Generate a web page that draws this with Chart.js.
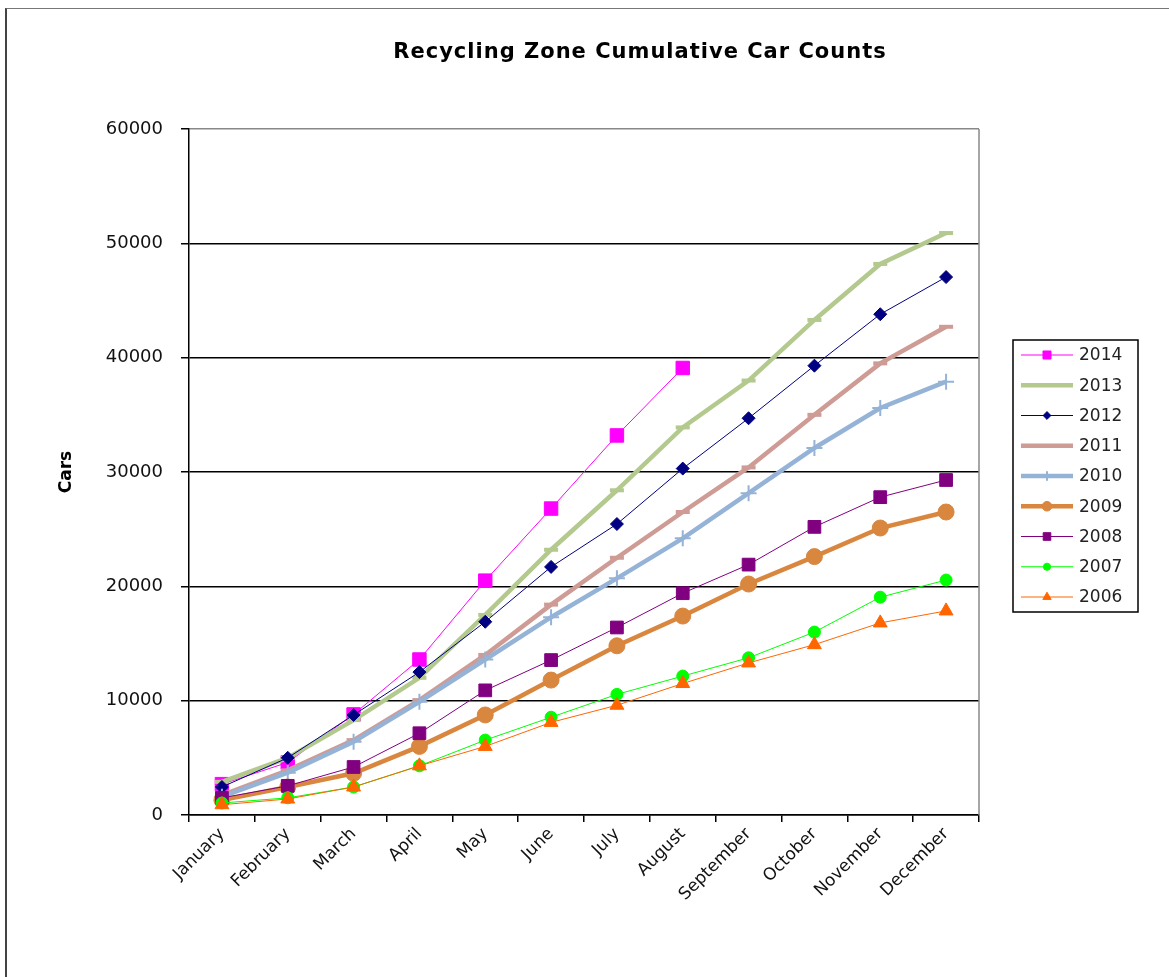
<!DOCTYPE html>
<html>
<head>
<meta charset="utf-8">
<title>Recycling Zone Cumulative Car Counts</title>
<script src="https://cdn.jsdelivr.net/npm/chart.js@4.4.1/dist/chart.umd.min.js"></script>
<style>
    html, body { margin: 0; padding: 0; background: #fff; }
    #wrap { position: relative; width: 1169px; height: 977px; overflow: hidden; }
    #frame { position: absolute; left: 5px; top: 8px; right: -4px; bottom: -4px; border-left: 2px solid #444; border-top: 1px solid #777; }
    #myChart { position: absolute; left: 0; top: 0; }
</style>
</head>
<body>
<div id="wrap">
    <div id="frame"></div>
    <canvas id="myChart" width="1169" height="977"></canvas>
</div>
<script>
const months = ['January', 'February', 'March', 'April', 'May', 'June', 'July', 'August', 'September', 'October', 'November', 'December']
const years = ['2014', '2013', '2012', '2011', '2010', '2009', '2008', '2007', '2006']
const yTicks = [0, 10000, 20000, 30000, 40000, 50000, 60000]

// running totals per month
const cars2014 = [2700, 4600, 8800, 13600, 20500, 26800, 33200, 39100, null, null, null, null]
const cars2013 = [2900, 5000, 8300, 12000, 17500, 23200, 28400, 33900, 38000, 43300, 48200, 50900]
const cars2012 = [2450, 5000, 8750, 12500, 16900, 21700, 25450, 30300, 34700, 39300, 43800, 47050]
const cars2011 = [1750, 3900, 6550, 10050, 14000, 18400, 22500, 26500, 30400, 35000, 39500, 42700]
const cars2010 = [1600, 3700, 6400, 9900, 13600, 17300, 20700, 24200, 28150, 32100, 35600, 37900]
const cars2009 = [1300, 2450, 3650, 6000, 8750, 11800, 14800, 17400, 20200, 22600, 25100, 26500]
const cars2008 = [1500, 2550, 4200, 7150, 10900, 13550, 16400, 19400, 21900, 25200, 27800, 29300]
const cars2007 = [1050, 1500, 2450, 4300, 6550, 8550, 10550, 12150, 13750, 16000, 19050, 20550]
const cars2006 = [900, 1400, 2450, 4300, 6000, 8100, 9600, 11500, 13300, 14900, 16800, 17850]

const seriesValues = [cars2014, cars2013, cars2012, cars2011, cars2010, cars2009, cars2008, cars2007, cars2006]

// line colour, width, marker shape, marker size, marker outline
const seriesStyle = [
    { color: '#FF00FF', width: 1, point: 'rect', radius: 9.5, pointBorder: 1 },
    { color: '#B3C98E', width: 4.5, point: 'line', radius: 7, pointBorder: 4 },
    { color: '#000080', width: 1, point: 'rectRot', radius: 6.5, pointBorder: 1 },
    { color: '#CF9B95', width: 4.5, point: 'line', radius: 7, pointBorder: 4 },
    { color: '#95B3D7', width: 4.5, point: 'cross', radius: 8, pointBorder: 2 },
    { color: '#D9863E', width: 4.5, point: 'circle', radius: 8, pointBorder: 1 },
    { color: '#800080', width: 1, point: 'rect', radius: 9, pointBorder: 1 },
    { color: '#00FF00', width: 1, point: 'circle', radius: 6, pointBorder: 1 },
    { color: '#FF6600', width: 1, point: 'triangle', radius: 8, pointBorder: 1 }
]

const FONT = "'DejaVu Sans', 'Liberation Sans', Arial, sans-serif"

const datasets = years.map((year, i) => {
    const s = seriesStyle[i]
    return {
        label: year,
        data: seriesValues[i],
        borderColor: s.color,
        backgroundColor: s.color,
        borderWidth: s.width,
        pointStyle: s.point,
        pointRadius: s.radius,
        pointBorderWidth: s.pointBorder,
        pointBackgroundColor: s.color,
        pointBorderColor: s.color,
        tension: 0,
        // later years sit underneath the older ones
        order: years.length - i
    }
})

const chartTitle = {
    id: 'chartTitle',
    afterDraw(chart, args, opts) {
        const ctx = chart.ctx
        ctx.save()
        ctx.font = 'bold 21px ' + FONT
        ctx.fillStyle = '#000'
        ctx.textAlign = 'center'
        ctx.textBaseline = 'alphabetic'
        ctx.letterSpacing = '1px'
        ctx.fillText(opts.text, opts.x, opts.y)
        ctx.restore()
    }
}

const plotBorder = {
    id: 'plotBorder',
    beforeDatasetsDraw(chart) {
        const { ctx, chartArea } = chart
        ctx.save()
        ctx.strokeStyle = '#888'
        ctx.lineWidth = 1.5
        ctx.beginPath()
        ctx.moveTo(chartArea.right, chartArea.top)
        ctx.lineTo(chartArea.right, chartArea.bottom)
        ctx.stroke()
        ctx.restore()
    }
}

const legendBox = {
    id: 'legendBox',
    afterDraw(chart, args, opts) {
        const ctx = chart.ctx
        ctx.save()
        ctx.strokeStyle = '#000'
        ctx.lineWidth = 1.5
        ctx.strokeRect(opts.left, opts.top, opts.width, opts.height)
        chart.data.datasets.forEach((ds, i) => {
            const y = opts.top + opts.firstRow + i * opts.rowHeight
            ctx.strokeStyle = ds.borderColor
            ctx.fillStyle = ds.borderColor
            ctx.lineWidth = ds.borderWidth
            ctx.beginPath()
            ctx.moveTo(opts.left + 8, y)
            ctx.lineTo(opts.left + 60, y)
            ctx.stroke()
            if (ds.pointStyle !== 'line') {
                ctx.lineWidth = ds.pointBorderWidth
                Chart.helpers.drawPoint(ctx, {
                    pointStyle: ds.pointStyle,
                    radius: ds.pointRadius * 0.6,
                    borderWidth: ds.pointBorderWidth,
                    rotation: 0
                }, opts.left + 34, y)
            }
            ctx.fillStyle = '#222'
            ctx.font = '17px ' + FONT
            ctx.textAlign = 'left'
            ctx.textBaseline = 'middle'
            ctx.fillText(ds.label, opts.left + 66, y + 1)
        })
        ctx.restore()
    }
}

const ctx = document.querySelector('#myChart').getContext('2d')

new Chart(ctx, {
    type: 'line',
    data: { labels: months, datasets: datasets },
    plugins: [chartTitle, plotBorder, legendBox],
    options: {
        responsive: false,
        animation: false,
        devicePixelRatio: 1,
        events: [],
        layout: {
            padding: { left: 0, top: 129, right: 190, bottom: 0 }
        },
        scales: {
            x: {
                type: 'category',
                offset: true,
                afterFit: (scale) => { scale.height = 162 },
                grid: {
                    offset: true,
                    drawOnChartArea: false,
                    drawTicks: true,
                    tickLength: 7,
                    color: '#000',
                    lineWidth: 1.5
                },
                border: { color: '#000', width: 1.5 },
                ticks: {
                    color: '#111',
                    minRotation: 45,
                    maxRotation: 45,
                    autoSkip: false,
                    padding: 2,
                    font: { family: FONT, size: 17 }
                }
            },
            y: {
                min: 0,
                max: 60000,
                afterFit: (scale) => { scale.width = 189 },
                afterBuildTicks: (scale) => { scale.ticks = yTicks.map(v => ({ value: v })) },
                grid: {
                    color: (c) => (c.tick && c.tick.value === 60000 ? '#888' : '#000'),
                    tickColor: '#000',
                    lineWidth: 1.5,
                    drawTicks: true,
                    tickLength: 8
                },
                border: { color: '#000', width: 1.5 },
                ticks: {
                    color: '#111',
                    padding: 18,
                    font: { family: FONT, size: 18 },
                    callback: (value) => String(value)
                },
                title: {
                    display: true,
                    text: 'Cars',
                    color: '#000',
                    padding: { top: 56, bottom: 0 },
                    font: { family: FONT, size: 17, weight: 'bold' }
                }
            }
        },
        plugins: {
            legend: { display: false },
            tooltip: { enabled: false },
            chartTitle: { text: 'Recycling Zone Cumulative Car Counts', x: 640, y: 58 },
            legendBox: { left: 1013, top: 340, width: 125, height: 272, firstRow: 15, rowHeight: 30.25 }
        }
    }
})
</script>
</body>
</html>
